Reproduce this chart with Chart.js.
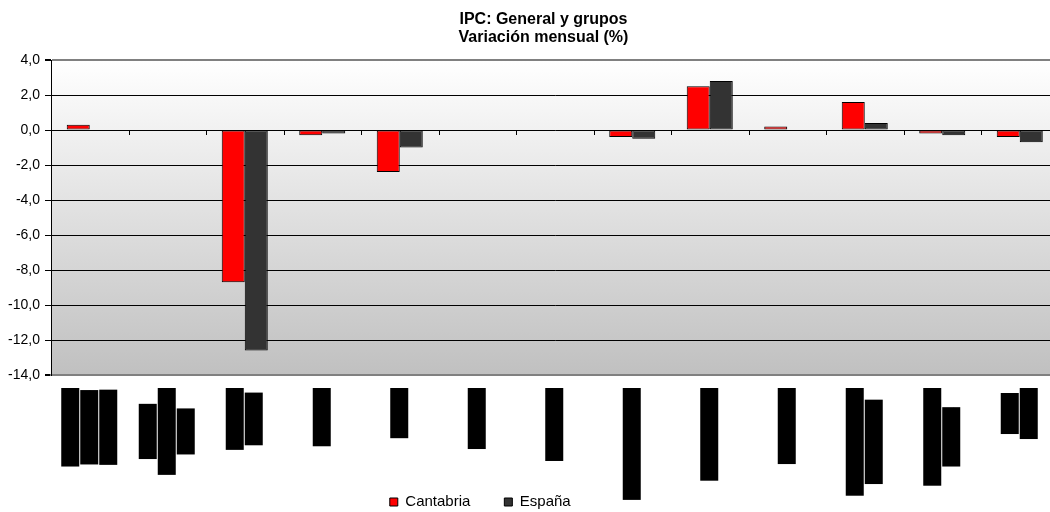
<!DOCTYPE html>
<html>
<head>
<meta charset="utf-8">
<title>IPC: General y grupos</title>
<script src="https://cdn.jsdelivr.net/npm/chart.js@4/dist/chart.umd.min.js"></script>
<style>
html, body { margin: 0; padding: 0; overflow: hidden; background: #fff; }
#wrap { width: 1087px; height: 564px; }
</style>
</head>
<body>
<div id="wrap"><canvas id="ipcChart"></canvas></div>
<script>
// grupos del IPC (etiquetas partidas en líneas como en el original)
const grupos = [
  ['Alimentos y', 'bebidas no', 'alcohólicas'],
  ['Bebidas', 'alcohólicas y', 'tabaco'],
  ['Vestido y', 'calzado'],
  'Vivienda',
  'Menaje',
  'Medicina',
  'Transporte',
  'Comunicaciones',
  'Ocio y cultura',
  'Enseñanza',
  ['Hoteles, cafés y', 'restaurantes'],
  ['Otros bienes y', 'servicios'],
  ['Índice', 'general']
];
const cantabria = [0.3, null, -8.7, -0.3, -2.4, null, null, -0.4, 2.5, 0.2, 1.6, -0.2, -0.4];
const espana    = [0.0, null, -12.6, -0.2, -1.0, null, null, -0.5, 2.8, 0.0, 0.4, -0.3, -0.7];
const yMin = -14, yMax = 4, yStep = 2;

const fuente = '"Liberation Sans", Arial, sans-serif';

const extras = {
  id: 'extras',
  afterLayout(chart) {
    // título y leyenda no están centrados en el original
    chart.titleBlock.left += 14.25;
    chart.titleBlock.right += 14.25;
    chart.legend.left -= 49;
    chart.legend.right -= 49;
    chart.legend.top -= 44.5;
    chart.legend.bottom -= 44.5;
  },
  beforeDraw(chart) {
    const {ctx, chartArea: a, scales: {x}} = chart;
    // fondo degradado del área de trazado
    const g = ctx.createLinearGradient(0, a.top, 0, a.bottom);
    g.addColorStop(0, '#ffffff');
    g.addColorStop(1, '#c0c0c0');
    ctx.save();
    ctx.fillStyle = g;
    ctx.fillRect(a.left, a.top, a.right - a.left, a.bottom - a.top);
    ctx.restore();

    // etiquetas giradas: una columna negra por línea, centrada en la categoría
    const items = x.getLabelItems();
    if (items.partidas) return;
    const nuevos = [];
    items.forEach(item => {
      const lineas = Array.isArray(item.label) ? item.label : [item.label];
      const lh = item.font.lineHeight;
      ctx.save();
      ctx.font = item.font.string;
      const anchos = lineas.map(t => ctx.measureText(t).width);
      ctx.restore();
      const maxW = Math.max(...anchos);
      const [tx, ty] = item.options.translation;
      lineas.forEach((t, j) => {
        nuevos.push({
          label: t,
          font: item.font,
          textOffset: lh / 2,
          options: Object.assign({}, item.options, {
            translation: [tx - lineas.length * lh / 2 + j * lh, ty + (maxW - anchos[j]) / 2],
            backdrop: { left: -anchos[j] - 1, top: 0, width: anchos[j] + 1, height: lh - 1, color: '#000' }
          })
        });
      });
    });
    items.length = 0;
    items.push(...nuevos);
    items.partidas = true;
  },
  beforeDatasetsDraw(chart) {
    // marcas del eje de categorías sobre la línea de cero
    const {ctx, scales: {x, y}} = chart;
    const y0 = y.getPixelForValue(0);
    ctx.save();
    ctx.strokeStyle = '#000';
    ctx.lineWidth = 1;
    ctx.beginPath();
    for (let i = 1; i < grupos.length; i++) {
      const px = Math.round((x.getPixelForTick(i - 1) + x.getPixelForTick(i)) / 2) + 0.5;
      ctx.moveTo(px, y0);
      ctx.lineTo(px, y0 + 5);
    }
    ctx.stroke();
    ctx.restore();
  }
};

new Chart(document.getElementById('ipcChart'), {
  type: 'bar',
  data: {
    labels: grupos,
    datasets: [
      { label: 'Cantabria', data: cantabria, backgroundColor: '#ff0000', borderColor: '#000', borderWidth: 1, borderSkipped: false },
      { label: 'España', data: espana, backgroundColor: '#333333', borderColor: '#000', borderWidth: 1, borderSkipped: false }
    ]
  },
  options: {
    responsive: true,
    maintainAspectRatio: false,
    animation: false,
    categoryPercentage: 0.594,
    barPercentage: 1.0,
    layout: { padding: { left: 0, right: 28.5, top: 0, bottom: 0 } },
    plugins: {
      title: {
        display: true,
        text: ['IPC: General y grupos', 'Variación mensual (%)'],
        color: '#000',
        font: { family: fuente, size: 16, weight: 'bold', lineHeight: 1.125 },
        padding: { top: 10.5, bottom: 13.5 }
      },
      legend: {
        display: true,
        position: 'bottom',
        labels: {
          boxWidth: 8,
          boxHeight: 8,
          padding: 34,
          color: '#000',
          font: { family: fuente, size: 15 }
        }
      },
      tooltip: { enabled: false }
    },
    scales: {
      x: {
        grid: { display: true, drawOnChartArea: false, drawTicks: false },
        border: { color: '#808080', width: 2 },
        ticks: {
          autoSkip: false,
          minRotation: 90,
          maxRotation: 90,
          padding: 13,
          color: '#000',
          font: { family: fuente, size: 15, lineHeight: 19 / 15 },
          showLabelBackdrop: true,
          backdropColor: '#000'
        },
        afterFit: s => { s.height = 130; }
      },
      y: {
        min: yMin,
        max: yMax,
        grid: {
          color: c => (c.tick && (c.tick.value === yMax || c.tick.value === yMin)) ? '#808080' : '#000',
          lineWidth: c => (c.tick && (c.tick.value === yMax || c.tick.value === yMin)) ? 2 : 1,
          tickColor: '#000',
          tickLength: 6
        },
        border: { color: '#000', width: 1 },
        ticks: {
          stepSize: yStep,
          padding: 5,
          color: '#000',
          font: { family: fuente, size: 14 },
          callback: v => v.toFixed(1).replace('.', ',')
        },
        afterFit: s => { s.width = 51; }
      }
    }
  },
  plugins: [extras]
});
</script>
</body>
</html>
